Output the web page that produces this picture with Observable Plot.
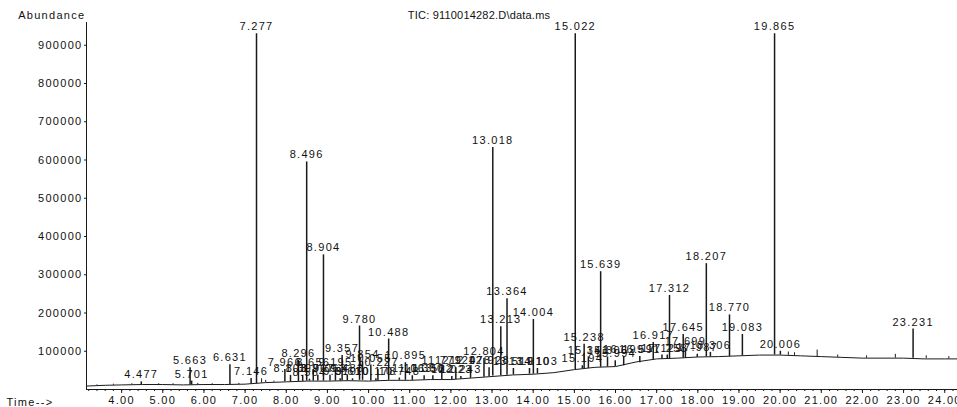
<!DOCTYPE html>
<html><head><meta charset="utf-8">
<script src="https://cdn.jsdelivr.net/npm/d3@7"></script>
<script src="https://cdn.jsdelivr.net/npm/@observablehq/plot@0.6"></script>
<style>
body{margin:0;background:#fff}
#chart svg text{letter-spacing:1.3px}
</style>
</head><body><div id="chart"></div>
<script>
// Baseline of the total ion chromatogram (time in min, abundance)
const baseTime = [3.15,3.6,4.0,4.5,5.0,5.5,6.0,6.5,7.0,7.5,8.0,8.5,9.0,9.5,10.0,10.5,11.0,11.5,12.0,12.5,13.0,13.5,14.0,14.5,15.0,15.5,16.0,16.5,17.0,17.5,18.0,18.5,19.0,19.5,20.0,20.5,21.0,21.5,22.0,22.5,23.0,23.5,24.0,24.3];
const baseAbund = [9000,11000,12000,13000,13000,12000,13000,13000,14000,18000,20000,22000,22000,23000,22000,24000,24000,26000,26000,30000,34000,38000,40000,44000,52000,58000,60000,72000,80000,82000,85000,86000,88000,90000,90000,88000,86000,84000,82000,82000,82000,80000,80000,80000];

// Labelled peaks: retention time label, apex abundance, abundance at foot
const peakLabel = ["4.477","5.663","5.701","6.631","7.146","7.277","7.966","8.103","8.296","8.399","8.496","8.564","8.656","8.767","8.904","9.063","9.195","9.310","9.357","9.483","9.610","9.780","9.854","10.055","10.178","10.227","10.488","10.748","10.895","11.063","11.350","11.562","11.779","12.023","12.120","12.243","12.478","12.804","12.928","13.018","13.213","13.364","13.519","13.910","14.004","14.103","15.022","15.194","15.238","15.341","15.639","15.806","15.994","16.199","16.591","16.917","17.129","17.258","17.312","17.645","17.699","17.987","18.207","18.306","18.770","19.083","19.865","20.006","23.231"];
const peakTop = [20000,57000,22000,65000,29000,930000,52000,37000,76000,37000,595000,27000,52000,37000,352000,37000,52000,28000,89000,37000,28000,166000,73000,64000,28000,52000,132000,30000,70000,36000,36000,36000,57000,34000,57000,34000,57000,81000,57000,633000,164000,237000,55000,55000,183000,55000,930000,62000,118000,85000,308000,85000,75000,86000,86000,123000,90000,90000,246000,144000,107000,92000,329000,97000,195000,144000,930000,100000,158000];
const peakBase = [12000,12000,12000,13000,14000,15000,20000,20000,21000,21000,22000,22000,22000,22000,22000,22000,22000,22000,23000,23000,23000,24000,24000,22000,22000,22000,24000,24000,24000,24000,25000,26000,26000,26000,26000,27000,29000,32000,34000,35000,36000,37000,38000,40000,40000,41000,52000,54000,54000,55000,58000,59000,60000,62000,70000,78000,80000,80000,80000,82000,82000,84000,85000,85000,86000,88000,90000,90000,82000];

// Small unlabelled bumps on the baseline
const minorTime = [3.40,3.80,4.25,4.90,5.25,5.85,6.20,6.85,7.40,7.50,7.70,20.20,20.35,20.90,21.40,22.10,22.80,23.55,24.10];
const minorTop  = [12000,14000,15000,15000,15000,16000,15000,16000,28000,24000,22000,98000,96000,103000,90000,88000,92000,88000,86000];
const minorBase = [10000,11000,12000,13000,12000,12000,13000,13000,17000,18000,19000,89000,89000,86000,84000,82000,82000,81000,80000];

// Axes
const yTicks = [100000,200000,300000,400000,500000,600000,700000,800000,900000];
const xTicks = [4,5,6,7,8,9,10,11,12,13,14,15,16,17,18,19,20,21,22,23,24];
const xTickLabels = ["4.00","5.00","6.00","7.00","8.00","9.00","10.00","11.00","12.00","13.00","14.00","15.00","16.00","17.00","18.00","19.00","20.00","21.00","22.00","23.00","24.00"];
const xDomain = [3.146, 24.31];

const baseline = baseTime.map((t, i) => ({t, v: baseAbund[i]}));
const peaks = peakLabel.map((l, i) => ({t: +l, label: l, top: peakTop[i], base: peakBase[i]}));
const minors = minorTime.map((t, i) => ({t, top: minorTop[i], base: minorBase[i]}));
const minorTicks = d3.range(3.2, 24.31, 0.2);

const ink = "#1a1a1a";
const chart = Plot.plot({
  width: 957,
  height: 407,
  marginLeft: 86,
  marginRight: 0,
  marginTop: 22,
  marginBottom: 18,
  style: {fontFamily: "'Liberation Sans', Arial, sans-serif", fontSize: "11px", background: "#fff", color: "#111"},
  x: {domain: xDomain},
  y: {domain: [0, 959500]},
  marks: [
    Plot.axisX({ticks: minorTicks, tickSize: 2, tickFormat: () => "", label: null, stroke: ink}),
    Plot.axisX({ticks: xTicks, tickSize: 4, tickPadding: 3, tickFormat: d => xTickLabels[xTicks.indexOf(d)], label: null, stroke: ink, fill: "#111"}),
    Plot.axisY({ticks: yTicks, tickSize: 2, tickPadding: 2, tickFormat: d => String(d), label: null, stroke: ink, fill: "#111"}),
    Plot.ruleY([0], {stroke: ink, strokeWidth: 1}),
    Plot.ruleX([xDomain[0]], {stroke: ink, strokeWidth: 1}),
    Plot.line(baseline, {x: "t", y: "v", stroke: ink, strokeWidth: 1}),
    Plot.ruleX(minors, {x: "t", y1: "base", y2: "top", stroke: ink, strokeWidth: 1}),
    Plot.ruleX(peaks, {x: "t", y1: "base", y2: "top", stroke: ink, strokeWidth: 1.5}),
    Plot.text(peaks, {x: "t", y: "top", text: "label", dy: -7, fill: "#111", fontSize: 11}),
    Plot.text(["TIC: 9110014282.D\\data.ms"], {frameAnchor: "top", dx: -43, dy: -7, lineAnchor: "middle", fill: "#111", fontSize: 11}),
    Plot.text(["Abundance"], {frameAnchor: "top-left", textAnchor: "end", dx: -1, dy: -7, lineAnchor: "middle", fill: "#111", fontSize: 11}),
    Plot.text(["Time-->"], {frameAnchor: "bottom-left", textAnchor: "start", dx: -80, dy: 13, lineAnchor: "middle", fill: "#111", fontSize: 11})
  ]
});
document.getElementById("chart").append(chart);
d3.select(chart).selectAll("text").filter(function(){ return this.textContent.startsWith("TIC"); }).attr("style", "letter-spacing:0.2px");
</script>
</body></html>
